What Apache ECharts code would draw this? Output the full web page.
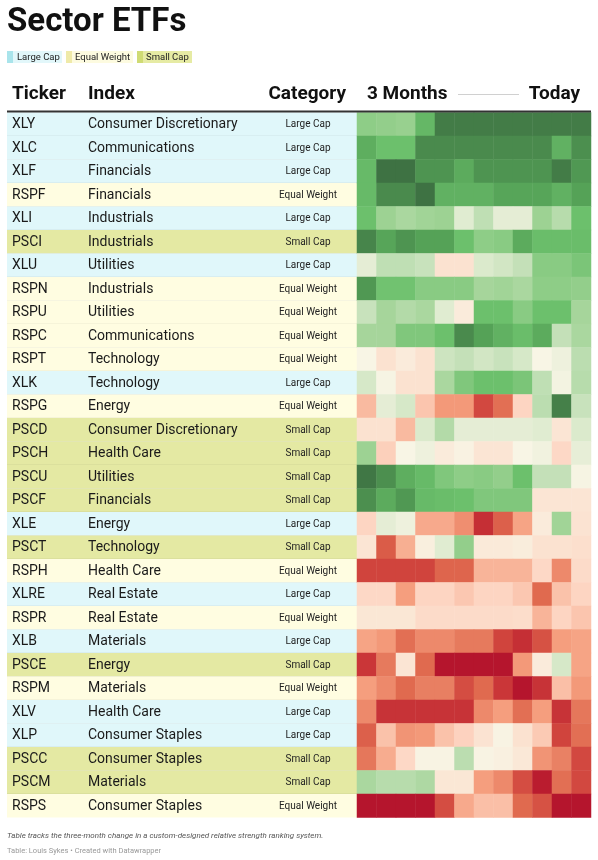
<!DOCTYPE html>
<html>
<head>
<meta charset="utf-8">
<script src="https://cdn.jsdelivr.net/npm/echarts@6/dist/echarts.min.js"></script>
<style>
html,body{margin:0;padding:0;background:#fff;}
#chart{width:598px;height:860px;}
</style>
</head>
<body>
<div id="chart"></div>
<script>
const tickers = ['XLY','XLC','XLF','RSPF','XLI','PSCI','XLU','RSPN','RSPU','RSPC','RSPT','XLK','RSPG','PSCD','PSCH','PSCU','PSCF','XLE','PSCT','RSPH','XLRE','RSPR','XLB','PSCE','RSPM','XLV','XLP','PSCC','PSCM','RSPS'];
const indexNames = ['Consumer Discretionary','Communications','Financials','Financials','Industrials','Industrials','Utilities','Industrials','Utilities','Communications','Technology','Technology','Energy','Consumer Discretionary','Health Care','Utilities','Financials','Energy','Technology','Health Care','Real Estate','Real Estate','Materials','Energy','Materials','Health Care','Consumer Staples','Consumer Staples','Materials','Consumer Staples'];
const categories = ['Large Cap','Large Cap','Large Cap','Equal Weight','Large Cap','Small Cap','Large Cap','Equal Weight','Equal Weight','Equal Weight','Equal Weight','Large Cap','Equal Weight','Small Cap','Small Cap','Small Cap','Small Cap','Large Cap','Small Cap','Equal Weight','Large Cap','Equal Weight','Large Cap','Small Cap','Equal Weight','Large Cap','Large Cap','Small Cap','Small Cap','Equal Weight'];
const weeks = ['W1','W2','W3','W4','W5','W6','W7','W8','W9','W10','W11','W12'];
// relative strength change score per week (-5 weakest ... +5 strongest)
const scores = [
  [2.3,2.2,2.1,3.3,4.8,4.8,4.8,4.8,4.8,4.8,4.8,4.8],
  [3.6,3.0,3.0,4.5,4.5,4.5,4.5,4.5,4.5,4.5,3.5,4.4],
  [3.2,5,5,4.3,4.3,3.7,4.3,4.3,4.3,4.3,4.8,4.2],
  [3.2,4.5,4.5,5,3.5,3.5,3.5,3.9,3.9,3.9,3.5,4.0],
  [3.0,2.0,1.7,1.9,2.0,0.5,1.2,0.4,0.4,2.0,1.4,3.0],
  [4.6,3.9,4.3,4.0,4.0,3.0,2.3,2.4,3.7,3.1,3.1,3.1],
  [0.4,1.2,1.2,1.0,-0.6,-0.6,0.6,0.8,1.1,2.4,2.4,2.7],
  [4.2,2.9,2.9,2.4,2.4,2.4,1.8,1.9,1.7,2.3,2.3,2.2],
  [1.0,1.8,1.5,1.7,0.5,-0.3,3.0,3.0,2.4,3.0,3.0,1.8],
  [1.8,1.8,2.6,2.6,3.0,4.5,4.0,3.5,3.1,3.7,1.1,1.7],
  [0,-0.6,-0.3,-0.6,0.9,1.1,0.8,1.0,0.7,0,0.2,1.3],
  [0.7,0.05,-0.6,-0.6,1.7,2.6,3.0,3.0,2.7,1.2,0.1,1.4],
  [-1.5,0.4,0.7,-1.3,-2.1,-2.1,-3.7,-2.9,-1.0,1.3,4.7,1.0],
  [-0.6,-0.6,-1.5,0.6,1.5,0.4,0.4,0.4,0.4,0.5,-0.5,0.6],
  [2.0,-1.1,0,0.2,-0.3,-0.1,-0.5,-0.5,0,0.15,-0.9,0.35],
  [4.9,4.4,3.6,3.2,2.6,2.3,2.4,2.2,3.0,1.1,1.1,0.05],
  [4.4,3.7,4.2,3.2,3.1,3.0,2.6,2.6,2.6,-0.5,-0.5,-0.5],
  [-1.0,0.4,0.2,-1.8,-1.8,-2.3,-4.3,-3.2,-1.9,-0.3,1.9,-0.55],
  [-0.5,-3.3,-1.7,-0.2,0.5,2.2,-0.35,-0.35,-0.25,-0.6,-0.6,-0.7],
  [-3.8,-3.8,-3.8,-3.8,-3.1,-3.1,-1.6,-1.6,-1.6,-0.9,-2.4,-0.8],
  [-0.9,-0.9,-2.0,-1.0,-1.0,-1.25,-1.0,-1.0,-1.25,-3.0,-1.35,-1.0],
  [-0.45,-0.45,-0.45,-0.8,-0.8,-0.8,-0.8,-0.8,-0.75,-1.6,-1.0,-1.3],
  [-1.9,-2.1,-2.9,-2.4,-2.4,-2.7,-2.7,-3.8,-4.3,-3.5,-2.0,-1.9],
  [-4.1,-2.7,-0.5,-3.0,-5,-5,-5,-5,-2.1,-0.3,0.7,-1.9],
  [-2.0,-2.4,-3.0,-2.6,-2.6,-3.6,-3.0,-4.1,-5,-4.2,-1.4,-2.1],
  [-2.4,-4.2,-4.2,-4.2,-4.2,-4.2,-2.4,-2.0,-2.9,-2.0,-4.2,-2.75],
  [-3.2,-1.35,-2.2,-2.1,-1.35,-1.05,-0.55,-0.05,-0.6,-1.2,-3.8,-2.9],
  [-2.75,-1.75,-0.9,-0.05,-0.05,1.3,-0.05,-0.15,-0.4,-2.2,-2.55,-3.7],
  [1.7,1.4,1.4,1.6,-0.45,-0.45,-2.0,-2.4,-3.6,-4.8,-2.9,-3.7],
  [-5,-5,-5,-5,-3.6,-1.8,-1.4,-1.4,-3.0,-3.5,-5,-5]
];
const legendLabels = ['Large Cap','Equal Weight','Small Cap'];

const catBg = {'Large Cap':'#e0f7fa','Equal Weight':'#fffde1','Small Cap':'#e4e9a3'};
const FONT = 'Roboto, "Noto Sans", sans-serif';

const heatData = [];
scores.forEach((row, r) => row.forEach((v, c) => heatData.push([c, r, v])));
const rowData = tickers.map((t, i) => [0, i]);

const TOP = 112.5, ROWH = 23.5, N = tickers.length;

const chart = echarts.init(document.getElementById('chart'), null, {renderer:'canvas'});
chart.setOption({
  backgroundColor:'#ffffff',
  animation:false,
  grid:[
    {left:7, width:350, top:TOP, height:ROWH*N},
    {left:357, width:234, top:TOP, height:ROWH*N}
  ],
  xAxis:[
    {gridIndex:0, type:'value', min:0, max:1, show:false},
    {gridIndex:1, type:'category', data:weeks, show:false}
  ],
  yAxis:[
    {gridIndex:0, type:'category', data:tickers, inverse:true, show:false},
    {gridIndex:1, type:'category', data:tickers, inverse:true, show:false}
  ],
  visualMap:{
    show:false, type:'continuous', min:-5, max:5, seriesIndex:1, dimension:2,
    inRange:{color:['#b5152d','#cc3a39','#e06a4f','#f59e7e','#fdd5c2','#f8f5e5','#c8e2bc','#9dd293','#6cc06c','#55a257','#3e7243']}
  },
  series:[
    {
      type:'custom', xAxisIndex:0, yAxisIndex:0, data:rowData,
      renderItem:function(params, api){
        const i = api.value(1);
        const p = api.coord([0, i]);
        const h = api.size([0, 1])[1];
        const x0 = params.coordSys.x, w = params.coordSys.width;
        const cat = categories[i];
        const yTop = p[1] - h/2;
        const children = [
          {type:'rect', shape:{x:x0, y:yTop, width:w, height:h}, style:{fill:catBg[cat]}},
          {type:'text', style:{x:12, y:p[1]+0.5, text:tickers[i], font:'14px '+FONT, fill:'#1a1a1a', verticalAlign:'middle'}},
          {type:'text', style:{x:88, y:p[1]+0.5, text:indexNames[i], font:'14px '+FONT, fill:'#1a1a1a', verticalAlign:'middle'}},
          {type:'text', style:{x:308, y:p[1]+0.5, text:cat, font:'10px '+FONT, fill:'#222', align:'center', verticalAlign:'middle'}}
        ];
        if (i < N-1) children.push({type:'line', shape:{x1:x0, y1:yTop+h, x2:x0+w, y2:yTop+h}, style:{stroke:'rgba(0,0,0,0.07)', lineWidth:1}});
        return {type:'group', children:children};
      }
    },
    {
      type:'heatmap', xAxisIndex:1, yAxisIndex:1, data:heatData,
      itemStyle:{borderWidth:0}, emphasis:{disabled:true}
    }
  ],
  graphic:[
    {type:'text', left:7, top:6, style:{text:'Sector ETFs', font:'bold 33px '+FONT, fill:'#111'}},
    {type:'rect', shape:{x:7, y:51, width:6, height:12}, style:{fill:'#a9e4eb'}},
    {type:'rect', shape:{x:13, y:51, width:49, height:12}, style:{fill:'#e2f7fa'}},
    {type:'text', style:{x:17, y:57.5, text:legendLabels[0], font:'9.5px '+FONT, fill:'#222', verticalAlign:'middle'}},
    {type:'rect', shape:{x:66, y:51, width:6, height:12}, style:{fill:'#efeaa9'}},
    {type:'rect', shape:{x:72, y:51, width:61, height:12}, style:{fill:'#fdfbe0'}},
    {type:'text', style:{x:75, y:57.5, text:legendLabels[1], font:'9.5px '+FONT, fill:'#222', verticalAlign:'middle'}},
    {type:'rect', shape:{x:137, y:51, width:6, height:12}, style:{fill:'#cfdb74'}},
    {type:'rect', shape:{x:143, y:51, width:49, height:12}, style:{fill:'#e6eba4'}},
    {type:'text', style:{x:146, y:57.5, text:legendLabels[2], font:'9.5px '+FONT, fill:'#222', verticalAlign:'middle'}},
    {type:'text', style:{x:12, y:94, text:'Ticker', font:'bold 19px '+FONT, fill:'#111', verticalAlign:'middle'}},
    {type:'text', style:{x:88, y:94, text:'Index', font:'bold 19px '+FONT, fill:'#111', verticalAlign:'middle'}},
    {type:'text', style:{x:346, y:94, text:'Category', font:'bold 19px '+FONT, fill:'#111', align:'right', verticalAlign:'middle'}},
    {type:'text', style:{x:367, y:94, text:'3 Months', font:'bold 19px '+FONT, fill:'#111', verticalAlign:'middle'}},
    {type:'line', shape:{x1:458, y1:94.5, x2:519, y2:94.5}, style:{stroke:'#d0d0d0', lineWidth:1}},
    {type:'text', style:{x:580, y:94, text:'Today', font:'bold 19px '+FONT, fill:'#111', align:'right', verticalAlign:'middle'}},
    {type:'line', shape:{x1:7, y1:111.5, x2:591, y2:111.5}, style:{stroke:'#333', lineWidth:2}, z:100},
    {type:'text', style:{x:7, y:836, text:'Table tracks the three-month change in a custom-designed relative strength ranking system.', font:'italic 8px '+FONT, fill:'#555', verticalAlign:'middle'}},
    {type:'text', style:{x:7, y:851, text:'Table: Louis Sykes \u2022 Created with Datawrapper', font:'7.5px '+FONT, fill:'#999', verticalAlign:'middle'}}
  ]
});
</script>
</body>
</html>
